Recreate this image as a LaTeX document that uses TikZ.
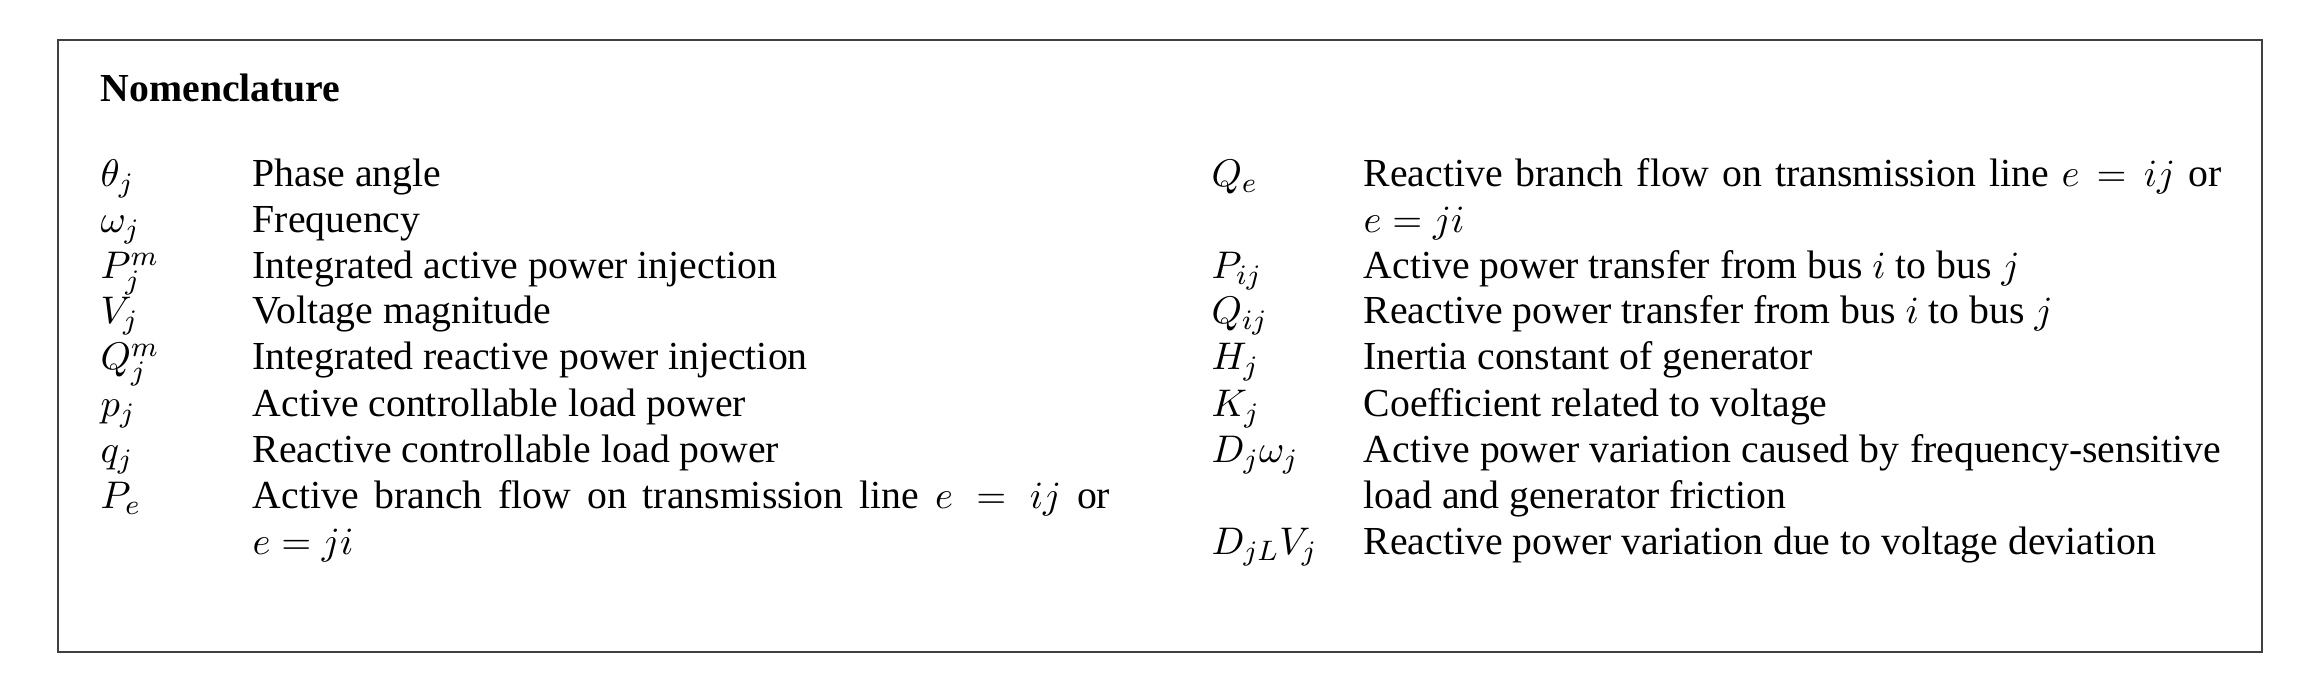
\documentclass[tikz,border=0pt]{standalone}
\usepackage{fontspec}
\setmainfont{Liberation Serif}
\begin{document}
\begin{tikzpicture}[x=0.01cm,y=-0.01cm,
  sym/.style={anchor=base west,inner sep=0pt},
  desc/.style={anchor=base west,inner sep=0pt}]
\useasboundingbox (0,0) rectangle (2307,677);
\draw[line width=0.8pt,black!75] (58,40) rectangle (2262,652);
\fontsize{11.3}{13.2}\selectfont
\node[sym,font=\bfseries] (title) at (100,102) {Nomenclature};
\foreach \y/\s/\d [count=\i] in {
 187/{$\theta_j$}/{Phase angle},
 233/{$\omega_j$}/{Frequency},
 279/{$P_j^m$}/{Integrated active power injection},
 324/{$V_j$}/{Voltage magnitude},
 370/{$Q_j^m$}/{Integrated reactive power injection},
 417/{$p_j$}/{Active controllable load power},
 463/{$q_j$}/{Reactive controllable load power}}
 {\node[sym] (ls\i) at (100,\y) {\s};
  \node[desc] (ld\i) at (252,\y) {\d};}
\node[sym] (ls8) at (100,509) {$P_e$};
\node[desc] (ld8) at (252,509) {\parbox[t]{8.57cm}{\baselineskip=46\dimexpr 0.01cm\relax Active branch flow on transmission line $e=ij$ or\linebreak $e=ji$}};
\node[sym] (rs1) at (1211,187) {$Q_e$};
\node[desc] (rd1) at (1363,187) {\parbox[t]{8.57cm}{\baselineskip=46\dimexpr 0.01cm\relax Reactive branch flow on transmission line $e=ij$ or\linebreak $e=ji$}};
\foreach \y/\s/\d [count=\i from 2] in {
 279/{$P_{ij}$}/{Active power transfer from bus $i$ to bus $j$},
 324/{$Q_{ij}$}/{Reactive power transfer from bus $i$ to bus $j$},
 370/{$H_j$}/{Inertia constant of generator},
 417/{$K_j$}/{Coefficient related to voltage}}
 {\node[sym] (rs\i) at (1211,\y) {\s};
  \node[desc] (rd\i) at (1363,\y) {\d};}
\node[sym] (rs6) at (1211,463) {$D_j\omega_j$};
\node[desc] (rd6) at (1363,463) {\parbox[t]{8.57cm}{\baselineskip=46\dimexpr 0.01cm\relax Active power variation caused by frequency-sensitive load and generator friction}};
\node[sym] (rs7) at (1211,555) {$D_{jL}V_j$};
\node[desc] (rd7) at (1363,555) {Reactive power variation due to voltage deviation};
\end{tikzpicture}
\end{document}
